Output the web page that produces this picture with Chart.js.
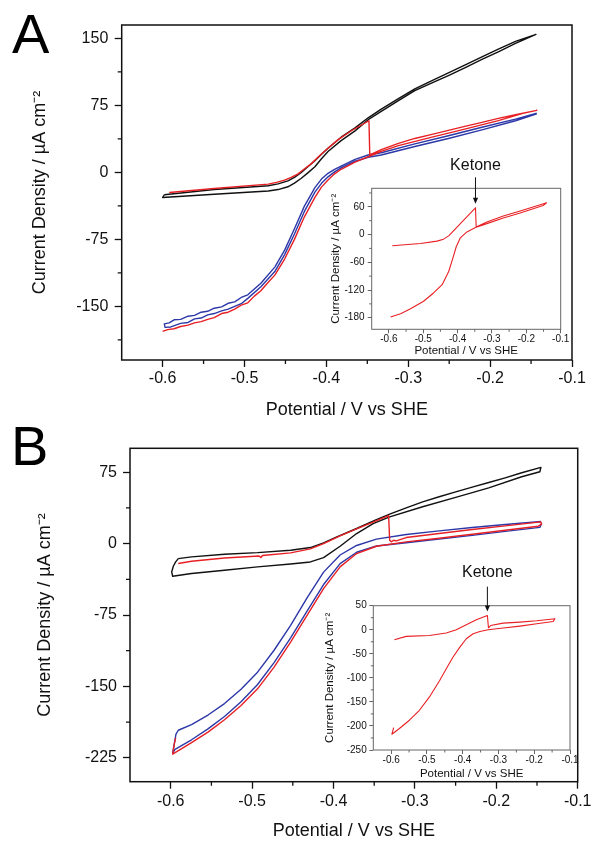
<!DOCTYPE html>
<html>
<head>
<meta charset="utf-8">
<script src="https://cdn.jsdelivr.net/npm/chart.js@4.4.1/dist/chart.umd.min.js"></script>
<style>
html, body { margin: 0; padding: 0; background: #fff; }
body { width: 595px; height: 843px; position: relative; overflow: hidden; }
canvas { position: absolute; }
</style>
</head>
<body>
<canvas id="mainA" width="595" height="422" style="left:0px;top:0px"></canvas>
<canvas id="insetA" width="260" height="225" style="left:320px;top:140px"></canvas>
<canvas id="mainB" width="595" height="423" style="left:0px;top:420px"></canvas>
<canvas id="insetB" width="280" height="240" style="left:310px;top:550px"></canvas>
<script>
// tick values
const X_TICKS = [-0.6, -0.5, -0.4, -0.3, -0.2, -0.1];
const X_MINOR = [-0.55, -0.45, -0.35, -0.25, -0.15];
const A_Y_TICKS = [-150, -75, 0, 75, 150];
const A_Y_MINOR = [-187.5, -112.5, -37.5, 37.5, 112.5];
const B_Y_TICKS = [-225, -150, -75, 0, 75];
const B_Y_MINOR = [-187.5, -112.5, -37.5, 37.5];
const INSET_A_Y_TICKS = [-180, -120, -60, 0, 60];
const INSET_A_Y_MINOR = [-150, -90, -30, 30, 90];
const INSET_B_Y_TICKS = [-250, -200, -150, -100, -50, 0, 50];
const INSET_B_Y_MINOR = [-225, -175, -125, -75, -25, 25];

// panel A, potential (V vs SHE) and current density (uA cm-2)
const A_BLACK_E = [-0.598, -0.537, -0.471, -0.459, -0.447, -0.439, -0.431, -0.423, -0.414, -0.406, -0.398, -0.382, -0.365, -0.349, -0.333, -0.312, -0.292, -0.271, -0.251, -0.231, -0.210, -0.190, -0.169, -0.144,
  -0.169, -0.190, -0.210, -0.231, -0.251, -0.271, -0.292, -0.312, -0.333, -0.349, -0.365, -0.382, -0.398, -0.406, -0.414, -0.423, -0.431, -0.439, -0.447, -0.459, -0.471, -0.537, -0.600, -0.598];
const A_BLACK_J = [-25, -19.1, -15, -12.8, -9.4, -5.5, -0.4, 6, 13.1, 20.3, 27, 39.4, 49.9, 61.1, 70.9, 82.5, 93.4, 102.8, 111.4, 120, 129.4, 138, 146.6, 154.5,
  144.4, 135, 126.4, 117, 108.4, 100.1, 91.5, 80.3, 68.3, 58.9, 46.5, 35.6, 23.3, 15.2, 6.4, -0.8, -6.8, -12, -16.1, -19.2, -20.8, -24.4, -28.1, -25];

const A_RED_E = [-0.592, -0.537, -0.471, -0.461, -0.451, -0.443, -0.435, -0.427, -0.418, -0.410, -0.402, -0.386, -0.369, -0.348, -0.347, -0.333, -0.312, -0.292, -0.271, -0.251, -0.231, -0.210, -0.190, -0.169, -0.143,
  -0.160, -0.190, -0.231, -0.271, -0.312, -0.333, -0.349, -0.365, -0.382, -0.390, -0.398, -0.406, -0.414, -0.427, -0.439, -0.451, -0.463, -0.474, -0.480, -0.488, -0.496, -0.504,
  -0.512, -0.520, -0.528, -0.537, -0.545, -0.553, -0.561, -0.569, -0.578, -0.586, -0.594, -0.600];
const A_RED_J = [-22.5, -18, -13.1, -11.2, -8.6, -5.6, -1.9, 3.8, 10.1, 17.2, 24, 36.4, 46.9, 57.8, 19.5, 25.5, 32.5, 38, 42.5, 47, 51.5, 56, 60.5, 64.5, 69.5,
  66, 58, 48.5, 39.5, 30, 23.6, 17.5, 11.5, 3.5, -1.6, -8.5, -16.5, -28, -50, -75, -97, -115, -126, -132.5, -138.5, -146, -148.5,
  -153, -156.5, -158, -162.5, -164.5, -167, -168.5, -171, -172.5, -175, -176, -178];

const A_BLUE_E = [-0.143, -0.169, -0.210, -0.251, -0.292, -0.333, -0.349, -0.365, -0.382, -0.390, -0.398, -0.406, -0.414, -0.427, -0.439, -0.451, -0.463, -0.480, -0.496, -0.504, -0.512, -0.520,
  -0.528, -0.537, -0.545, -0.553, -0.561, -0.569, -0.578, -0.586, -0.592, -0.598,
  -0.597, -0.590, -0.578, -0.569, -0.561, -0.553, -0.545, -0.537, -0.528, -0.520, -0.512, -0.504, -0.496, -0.480, -0.463, -0.451, -0.439, -0.427, -0.414, -0.406, -0.398,
  -0.390, -0.382, -0.365, -0.349, -0.333, -0.292, -0.251, -0.210, -0.169, -0.143];
const A_BLUE_J = [66.4, 59.6, 50.6, 41, 32, 22, 19.5, 14.6, 7, 3.4, -1, -7.5, -17, -38, -63, -87, -106, -124, -137, -140, -145, -146.5,
  -150.5, -152, -155.5, -156.5, -160, -161, -164.5, -165, -168.5, -169.5,
  -173.5, -173, -169, -168, -164, -163, -159.5, -158, -155, -153, -150, -147, -141, -128, -111, -92, -69, -44, -22, -12.2, -5,
  0.6, 5, 12.5, 16.9, 19.5, 29, 38, 47.6, 57.8, 65.6];

// panel B
const B_BLACK_E = [-0.5907, -0.5744, -0.5339, -0.4933, -0.4527, -0.4284, -0.4122, -0.3959, -0.3716, -0.3473, -0.3310, -0.3107, -0.2905, -0.2702, -0.2499, -0.2296, -0.2093, -0.1891, -0.1688, -0.1452,
  -0.1465, -0.1688, -0.2093, -0.2499, -0.2905, -0.3310, -0.3513, -0.3716, -0.3919, -0.4122, -0.4284, -0.4527, -0.4933, -0.5339, -0.5744, -0.5976, -0.5988, -0.5968, -0.5939, -0.5907];
const B_BLACK_J = [-15.8, -14, -11.2, -9.5, -7, -4.2, 0.7, 7, 15.8, 25.2, 30.8, 37.5, 43.8, 49.1, 54.3, 59.2, 64.1, 69, 74.3, 79.9,
  75.4, 70.1, 58.5, 48.4, 38.6, 28, 21, 10.5, -2.8, -14.7, -19.3, -21.4, -24.5, -28, -31.5, -34.3, -29.8, -23.8, -19.3, -15.8];

const B_RED_E = [-0.5907, -0.5744, -0.5339, -0.4913, -0.4892, -0.4872, -0.4527, -0.4284, -0.4122, -0.3919, -0.3716, -0.3513, -0.3323, -0.3310, -0.3290, -0.3262, -0.3229, -0.3107, -0.2702, -0.2296, -0.1891, -0.1452,
  -0.1444, -0.1485, -0.1891, -0.2296, -0.2702, -0.3107, -0.3473, -0.3716, -0.3919, -0.4122, -0.4325, -0.4527, -0.4730, -0.4933, -0.5136, -0.5339, -0.5542, -0.5744, -0.5976, -0.5955, -0.5939];
const B_RED_J = [-21, -18.6, -15.1, -13, -14.7, -12.6, -9.8, -5.6, 0, 8.1, 15.4, 22.4, 29.4, 3.5, 1.8, 3.5, 2.8, 6.3, 10.5, 14.7, 18.6, 22.8,
  20.3, 18.2, 14, 9.8, 5.6, 1.8, -2.8, -10.5, -24.5, -47.3, -75.4, -103.4, -129.7, -152.5, -170, -185, -198, -209, -221, -210, -204];

const B_BLUE_E = [-0.1452, -0.1891, -0.2296, -0.2702, -0.3107, -0.3473, -0.3716, -0.3919, -0.4122, -0.4325, -0.4527, -0.4730, -0.4933, -0.5136, -0.5339, -0.5542, -0.5744, -0.5907, -0.5935, -0.5976,
  -0.5947, -0.5744, -0.5542, -0.5339, -0.5136, -0.4933, -0.4730, -0.4527, -0.4325, -0.4122, -0.3919, -0.3716, -0.3473, -0.3107, -0.2702, -0.2296, -0.1891, -0.1465, -0.1444];
const B_BLUE_J = [23.1, 20, 16.8, 13.3, 9.5, 4.6, -2, -12, -30, -57, -86, -112, -135, -153, -168, -180, -190, -196, -200, -220,
  -216, -206, -194.5, -181.5, -166, -148, -125, -99, -71, -43, -21, -9.1, -2.6, 0.8, 4.8, 8.6, 12.8, 17, 21];

// insets (ketone run only)
const INSET_A_E = [-0.590, -0.508, -0.460, -0.441, -0.426, -0.412, -0.383, -0.348, -0.346, -0.315, -0.267, -0.218, -0.141,
  -0.151, -0.218, -0.267, -0.315, -0.348, -0.373, -0.392, -0.404, -0.414, -0.426, -0.445, -0.470, -0.499, -0.537, -0.566, -0.595];
const INSET_A_J = [-24.3, -19.3, -14.3, -10, -2.9, 7.9, 30.7, 57.9, 16.4, 27.1, 40, 50.7, 68.6,
  62.9, 46.4, 35.7, 23.6, 15, 5.7, -7.1, -26.4, -51.4, -80, -108.5, -126.4, -144.3, -160.7, -171.4, -178.5];
const INSET_B_E = [-0.591, -0.558, -0.493, -0.446, -0.418, -0.390, -0.362, -0.331, -0.328, -0.322, -0.287, -0.240, -0.193, -0.142,
  -0.147, -0.193, -0.240, -0.287, -0.329, -0.352, -0.371, -0.390, -0.408, -0.427, -0.446, -0.464, -0.493, -0.521, -0.549, -0.577, -0.598, -0.593];
const INSET_B_J = [-20.7, -13.8, -11.8, -6.9, 0, 10.4, 20.7, 29.7, 4.1, 8.7, 13.8, 15.9, 18.7, 22.8,
  17.3, 12.4, 7.6, 3.5, 0, -3.5, -8.3, -18.7, -36, -56.7, -80.9, -105, -139.7, -167.4, -188.1, -205.4, -217.2, -203.3];

// ketone addition points (spike tops)
const KETONE_A = { E: -0.348, J: 57.9 };
const KETONE_B = { E: -0.331, J: 29.7 };

const RED = 'rgb(232, 32, 36)';
const BLUE = 'rgb(44, 56, 168)';
const BLACK = '#111';
const FONT = '"Liberation Sans", Arial, sans-serif';
const X_TITLE = 'Potential / V vs SHE';
const Y_TITLE = 'Current Density / \u00b5A cm\u207b\u00b2';

function pts(E, J) {
  return E.map((e, i) => ({ x: e, y: J[i] }));
}

// draws box, minor ticks, ketone arrow and panel letter
function framePlugin(s) {
  return {
    id: 'frame',
    afterDraw(chart) {
      const ctx = chart.ctx;
      const a = chart.chartArea;
      const x = chart.scales.x, y = chart.scales.y;
      ctx.save();
      ctx.strokeStyle = s.frameColor;
      ctx.lineWidth = s.frameWidth;
      ctx.strokeRect(a.left, a.top, a.right - a.left, a.bottom - a.top);
      ctx.lineWidth = s.tickWidth;
      ctx.beginPath();
      s.xMinor.forEach(v => {
        const px = x.getPixelForValue(v);
        ctx.moveTo(px, a.bottom);
        ctx.lineTo(px, a.bottom + s.minorLen);
      });
      s.yMinor.forEach(v => {
        const py = y.getPixelForValue(v);
        ctx.moveTo(a.left, py);
        ctx.lineTo(a.left - s.minorLen, py);
      });
      ctx.stroke();
      if (s.note) {
        const px = x.getPixelForValue(s.note.E);
        const py = y.getPixelForValue(s.note.J);
        ctx.fillStyle = '#111';
        ctx.strokeStyle = '#111';
        ctx.lineWidth = 1;
        ctx.font = '16px ' + FONT;
        ctx.textAlign = 'center';
        ctx.textBaseline = 'middle';
        ctx.fillText('Ketone', px, a.top - s.note.textUp);
        ctx.beginPath();
        ctx.moveTo(px, a.top - s.note.lineUp);
        ctx.lineTo(px, py - 8);
        ctx.stroke();
        ctx.beginPath();
        ctx.moveTo(px, py - 4);
        ctx.lineTo(px - 2.6, py - 10);
        ctx.lineTo(px + 2.6, py - 10);
        ctx.closePath();
        ctx.fill();
      }
      if (s.letter) {
        ctx.fillStyle = '#000';
        ctx.font = '56px ' + FONT;
        ctx.textAlign = 'left';
        ctx.textBaseline = 'alphabetic';
        ctx.fillText(s.letter, s.letterX, s.letterY);
      }
      ctx.restore();
    }
  };
}

function makeChart(id, s) {
  return new Chart(document.getElementById(id), {
    type: 'scatter',
    data: {
      datasets: s.series.map(d => ({
        data: pts(d.E, d.J),
        showLine: true,
        borderColor: d.color,
        borderWidth: s.lineWidth,
        borderJoinStyle: 'round',
        pointRadius: 0,
        tension: 0,
        fill: false
      }))
    },
    options: {
      responsive: false,
      animation: false,
      devicePixelRatio: 1,
      layout: { padding: s.pad },
      plugins: { legend: { display: false }, tooltip: { enabled: false } },
      scales: {
        x: {
          type: 'linear',
          min: -0.65,
          max: -0.1,
          afterBuildTicks: ax => { ax.ticks = X_TICKS.map(v => ({ value: v })); },
          afterFit: ax => { ax.height = s.xHeight; },
          ticks: {
            callback: v => v.toFixed(1),
            autoSkip: false,
            maxRotation: 0,
            color: '#111',
            padding: s.xTickPad,
            font: { family: FONT, size: s.tickSize }
          },
          grid: { drawOnChartArea: false, tickLength: s.majorLen, tickColor: s.frameColor, tickWidth: s.tickWidth },
          border: { display: false },
          title: {
            display: true, text: X_TITLE, color: '#111',
            font: { family: FONT, size: s.titleSize },
            padding: { top: 0, bottom: s.xTitlePad }
          }
        },
        y: {
          type: 'linear',
          min: s.yMin,
          max: s.yMax,
          afterBuildTicks: ax => { ax.ticks = s.yTicks.map(v => ({ value: v })); },
          afterFit: ax => { ax.width = s.yWidth; },
          ticks: {
            callback: v => String(v),
            autoSkip: false,
            color: '#111',
            padding: s.yTickPad,
            font: { family: FONT, size: s.tickSize }
          },
          grid: { drawOnChartArea: false, tickLength: s.majorLen, tickColor: s.frameColor, tickWidth: s.tickWidth },
          border: { display: false },
          title: {
            display: true, text: Y_TITLE, color: '#111',
            font: { family: FONT, size: s.titleSize },
            padding: { top: s.yTitlePad, bottom: 0 }
          }
        }
      }
    },
    plugins: [framePlugin(s)]
  });
}

const mainStyle = { lineWidth: 1.4, frameColor: '#111', frameWidth: 1.5, tickWidth: 1.3, majorLen: 7, minorLen: 4, tickSize: 16, titleSize: 18 };
const insetStyle = { lineWidth: 1.1, frameColor: '#666', frameWidth: 1, tickWidth: 1, majorLen: 4, minorLen: 2.5, tickSize: 10, titleSize: 11.5 };

makeChart('mainA', Object.assign({}, mainStyle, {
  series: [
    { E: A_RED_E, J: A_RED_J, color: RED },
    { E: A_BLUE_E, J: A_BLUE_J, color: BLUE },
    { E: A_BLACK_E, J: A_BLACK_J, color: BLACK }
  ],
  pad: { left: 0, top: 25, right: 23, bottom: 0 },
  yWidth: 121.7, xHeight: 62,
  yMin: -210, yMax: 165, yTicks: A_Y_TICKS, yMinor: A_Y_MINOR, xMinor: X_MINOR,
  xTickPad: 2, yTickPad: 6.4, xTitlePad: 1.2, yTitlePad: 29,
  letter: 'A', letterX: 12, letterY: 53
}));

makeChart('insetA', Object.assign({}, insetStyle, {
  series: [{ E: INSET_A_E, J: INSET_A_J, color: RED }],
  pad: { left: 0, top: 48.3, right: 19.3, bottom: 0 },
  yWidth: 51.7, xHeight: 35.7,
  yMin: -205, yMax: 100, yTicks: INSET_A_Y_TICKS, yMinor: INSET_A_Y_MINOR, xMinor: X_MINOR,
  xTickPad: 0, yTickPad: 3.2, xTitlePad: 7.1, yTitlePad: 9.1,
  note: { E: KETONE_A.E, J: KETONE_A.J, textUp: 23, lineUp: 11 }
}));

makeChart('mainB', Object.assign({}, mainStyle, {
  series: [
    { E: B_RED_E, J: B_RED_J, color: RED },
    { E: B_BLUE_E, J: B_BLUE_J, color: BLUE },
    { E: B_BLACK_E, J: B_BLACK_J, color: BLACK }
  ],
  pad: { left: 0, top: 28.3, right: 14, bottom: 0 },
  yWidth: 130, xHeight: 61.3,
  yMin: -250, yMax: 100, yTicks: B_Y_TICKS, yMinor: B_Y_MINOR, xMinor: X_MINOR,
  xTickPad: 3.5, yTickPad: 6, xTitlePad: 1.2, yTitlePad: 34,
  letter: 'B', letterX: 11, letterY: 45
}));

makeChart('insetB', Object.assign({}, insetStyle, {
  series: [{ E: INSET_B_E, J: INSET_B_J, color: RED }],
  pad: { left: 0, top: 55.7, right: 20, bottom: 0 },
  yWidth: 63.3, xHeight: 40,
  yMin: -250, yMax: 50, yTicks: INSET_B_Y_TICKS, yMinor: INSET_B_Y_MINOR, xMinor: X_MINOR,
  xTickPad: 0, yTickPad: 2.6, xTitlePad: 8.8, yTitlePad: 13.1,
  note: { E: KETONE_B.E, J: KETONE_B.J, textUp: 33, lineUp: 19 }
}));
</script>
</body>
</html>
